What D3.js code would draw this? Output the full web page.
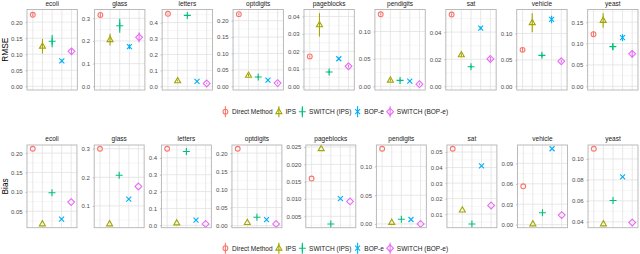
<!DOCTYPE html>
<html>
<head>
<meta charset="utf-8">
<script src="https://cdn.jsdelivr.net/npm/d3@7"></script>
<style>
  body { margin: 0; background: #fff; }
  svg { display: block; }
  text { font-family: "Liberation Sans", Arial, sans-serif; }
</style>
</head>
<body>
<div id="chart"></div>
<script>
const datasets = ["ecoli", "glass", "letters", "optdigits", "pageblocks", "pendigits", "sat", "vehicle", "yeast"];
const methods = ["Direct Method", "IPS", "SWITCH (IPS)", "BOP-e", "SWITCH (BOP-e)"];

// RMSE (top) - one array per method, in dataset order
const rmseDM     = [0.223, 0.3145, 0.455, 0.2198, 0.0171, 0.1314, 0.053, 0.069, 0.1218];
const rmseIPS    = [0.125, 0.2056, 0.034, 0.0336, 0.0352, 0.0112, 0.0232, 0.1204, 0.154];
const rmseSwIPS  = [0.1406, 0.267, 0.445, 0.0286, 0.0082, 0.0108, 0.0145, 0.0586, 0.0928];
const rmseBOP    = [0.079, 0.175, 0.031, 0.0187, 0.0158, 0.0094, 0.043, 0.1265, 0.114];
const rmseSwBOP  = [0.109, 0.216, 0.018, 0.0098, 0.0115, 0.004, 0.0202, 0.0475, 0.076];

// RMSE error bar half widths
const errDM     = [0.005, 0.008, 0.004, 0.003, 0.0006, 0.002, 0.001, 0.004, 0.007];
const errIPS    = [0.023, 0.026, 0.004, 0.004, 0.0067, 0.002, 0.0012, 0.018, 0.017];
const errSwIPS  = [0.019, 0.031, 0.006, 0.003, 0.0007, 0.002, 0.0008, 0.003, 0.008];
const errBOP    = [0.005, 0.010, 0.004, 0.003, 0.0008, 0.0015, 0.0012, 0.007, 0.008];
const errSwBOP  = [0.008, 0.022, 0.004, 0.003, 0.0008, 0.0015, 0.0015, 0.003, 0.009];

// Bias (bottom)
const biasDM    = [0.2113, 0.300, 0.454, 0.212, 0.0159, 0.1307, 0.0521, 0.0563, 0.1097];
const biasIPS   = [0.0174, 0.0368, 0.0137, 0.0084, 0.0245, 0.0025, 0.0126, 0.001, 0.038];
const biasSwIPS = [0.098, 0.207, 0.4376, 0.0232, 0.0028, 0.0082, 0.0037, 0.0175, 0.0604];
const biasBOP   = [0.0297, 0.124, 0.030, 0.0167, 0.0101, 0.0077, 0.0411, 0.1115, 0.0828];
const biasSwBOP = [0.0737, 0.168, 0.008, 0.0047, 0.0093, 0.0, 0.0156, 0.014, 0.0394];

const rmseTickLabels = [
  ["0.00", "0.05", "0.10", "0.15", "0.20"],
  ["0.0", "0.1", "0.2", "0.3"],
  ["0.0", "0.1", "0.2", "0.3", "0.4"],
  ["0.00", "0.05", "0.10", "0.15", "0.20"],
  ["0.00", "0.01", "0.02", "0.03", "0.04"],
  ["0.00", "0.05", "0.10"],
  ["0.00", "0.02", "0.04"],
  ["0.00", "0.05", "0.10"],
  ["0.00", "0.05", "0.10", "0.15"]
];
const biasTickLabels = [
  ["0.05", "0.10", "0.15", "0.20"],
  ["0.1", "0.2", "0.3"],
  ["0.0", "0.1", "0.2", "0.3", "0.4"],
  ["0.00", "0.05", "0.10", "0.15", "0.20"],
  ["0.005", "0.010", "0.015", "0.020", "0.025"],
  ["0.00", "0.05", "0.10"],
  ["0.01", "0.02", "0.03", "0.04", "0.05"],
  ["0.00", "0.03", "0.06", "0.09"],
  ["0.04", "0.06", "0.08", "0.10"]
];

const colors = ["#F8766D", "#A3A500", "#00BF7D", "#00B0F6", "#E76BF3"];
const shapes = ["circle", "triangle", "plus", "cross", "diamond"];

const svgWidth = 640, svgHeight = 254;
const svg = d3.select("#chart").append("svg")
  .attr("width", svgWidth)
  .attr("height", svgHeight);

const measurer = svg.append("text").attr("x", -100).attr("y", -100);
function textWidth(str, size) {
  measurer.attr("font-size", size).text(str);
  return measurer.node().getComputedTextLength();
}

function shapePath(shape) {
  switch (shape) {
    case "circle": return "M2.4,0A2.4,2.4 0 1 1 -2.4,0A2.4,2.4 0 1 1 2.4,0Z";
    case "triangle": return "M0,-3.3L3,1.9L-3,1.9Z";
    case "plus": return "M-3.5,0H3.5M0,-3.5V3.5";
    case "cross": return "M-2.5,-2.5L2.5,2.5M-2.5,2.5L2.5,-2.5";
    case "diamond": return "M0,-3.4L3.4,0L0,3.4L-3.4,0Z";
  }
}

function drawRow(o) {
  const tickSize = 1.5, tickPad = 2.9, spacing = 4.5, leftTitle = 10.9, rightMargin = 2;
  const axisW = o.tickLabels.map(ls => d3.max(ls, l => textWidth(l, 6)) + tickSize + tickPad);
  const pw = (svgWidth - leftTitle - rightMargin - d3.sum(axisW) - 8 * spacing) / 9;
  const height = o.bottom - o.top;

  let left = leftTitle;
  datasets.forEach(function(name, i) {
    left += axisW[i];
    const g = svg.append("g").attr("transform", `translate(${left}, ${o.top})`);

    const pts = methods.map((m, j) => ({
      m: m, j: j,
      v: o.values[j][i],
      e: o.errors ? o.errors[j][i] : 0
    }));
    let lo = d3.min(pts, d => d.v - d.e), hi = d3.max(pts, d => d.v + d.e);
    if (o.includeZero) lo = Math.min(lo, 0);
    const pad = (hi - lo) * 0.05;
    const y = d3.scaleLinear().domain([lo - pad, hi + pad]).range([height, 0]);
    const x = d3.scalePoint().domain(methods).range([0, pw]).padding(0.6);

    const ticks = o.tickLabels[i].map(Number);
    const step = ticks[1] - ticks[0];
    const minors = [];
    for (let k = -1; k < ticks.length; k++) {
      const mv = ticks[0] + (k + 0.5) * step;
      if (mv > y.domain()[0] && mv < y.domain()[1]) minors.push(mv);
    }

    g.append("rect").attr("width", pw).attr("height", height).attr("fill", "#fff");

    g.selectAll(".minor").data(minors).enter().append("line")
      .attr("x1", 0).attr("x2", pw)
      .attr("y1", d => y(d)).attr("y2", d => y(d))
      .attr("stroke", "#EFEFEF").attr("stroke-width", 0.5);
    g.selectAll(".major").data(ticks).enter().append("line")
      .attr("x1", 0).attr("x2", pw)
      .attr("y1", d => y(d)).attr("y2", d => y(d))
      .attr("stroke", "#E2E2E2").attr("stroke-width", 0.8);
    g.selectAll(".vgrid").data(methods).enter().append("line")
      .attr("x1", d => x(d)).attr("x2", d => x(d))
      .attr("y1", 0).attr("y2", height)
      .attr("stroke", "#E2E2E2").attr("stroke-width", 0.8);

    const axis = g.append("g")
      .call(d3.axisLeft(y).tickValues(ticks)
        .tickFormat((d, k) => o.tickLabels[i][k])
        .tickSize(tickSize).tickPadding(tickPad));
    axis.select(".domain").remove();
    axis.selectAll("line").attr("stroke", "#B3B3B3").attr("stroke-width", 0.8);
    axis.selectAll("text").attr("fill", "#4D4D4D").attr("font-size", 6)
      .attr("font-family", "Liberation Sans, Arial, sans-serif");

    if (o.errors) {
      g.selectAll(".err").data(pts).enter().append("line")
        .attr("x1", d => x(d.m)).attr("x2", d => x(d.m))
        .attr("y1", d => y(d.v - d.e)).attr("y2", d => y(d.v + d.e))
        .attr("stroke", d => colors[d.j]).attr("stroke-width", 1.1);
    }

    g.selectAll(".pt").data(pts).enter().append("path")
      .attr("transform", d => `translate(${x(d.m)}, ${y(d.v)})`)
      .attr("d", d => shapePath(shapes[d.j]))
      .attr("fill", "none")
      .attr("stroke", d => colors[d.j])
      .attr("stroke-width", 1.1);

    g.append("rect").attr("width", pw).attr("height", height)
      .attr("fill", "none").attr("stroke", "#B3B3B3").attr("stroke-width", 0.9);

    svg.append("text")
      .attr("x", left + pw / 2).attr("y", o.stripY)
      .attr("text-anchor", "middle")
      .attr("font-size", 6.5).attr("fill", "#1A1A1A")
      .text(name);

    left += pw + spacing;
  });

  svg.append("text")
    .attr("transform", `translate(7.6, ${(o.top + o.bottom) / 2}) rotate(-90)`)
    .attr("text-anchor", "middle")
    .attr("font-size", 8.3).attr("fill", "#000")
    .text(o.title);

  // legend
  const lw = methods.map(m => textWidth(m, 6.5));
  const total = d3.sum(lw) + methods.length * 6.7 + (methods.length - 1) * 6.3 + 3.5;
  let cx = 335 - total / 2 + 3.5;
  const leg = svg.append("g");
  methods.forEach(function(m, j) {
    leg.append("line")
      .attr("x1", cx).attr("x2", cx)
      .attr("y1", o.legendY - 5.5).attr("y2", o.legendY + 5.5)
      .attr("stroke", colors[j]).attr("stroke-width", 1.1);
    leg.append("path")
      .attr("transform", `translate(${cx}, ${o.legendY})`)
      .attr("d", shapePath(shapes[j]))
      .attr("fill", "none").attr("stroke", colors[j]).attr("stroke-width", 1.1);
    leg.append("text")
      .attr("x", cx + 6.7).attr("y", o.legendY + 2.3)
      .attr("font-size", 6.5).attr("fill", "#1A1A1A")
      .text(m);
    cx += 6.7 + lw[j] + 6.3;
  });
}

drawRow({
  top: 9.5, bottom: 90, stripY: 5.6, legendY: 111.7, title: "RMSE", includeZero: true,
  values: [rmseDM, rmseIPS, rmseSwIPS, rmseBOP, rmseSwBOP],
  errors: [errDM, errIPS, errSwIPS, errBOP, errSwBOP],
  tickLabels: rmseTickLabels
});

drawRow({
  top: 145, bottom: 227.7, stripY: 141.2, legendY: 248.2, title: "Bias", includeZero: false,
  values: [biasDM, biasIPS, biasSwIPS, biasBOP, biasSwBOP],
  errors: null,
  tickLabels: biasTickLabels
});

measurer.remove();
</script>
</body>
</html>
